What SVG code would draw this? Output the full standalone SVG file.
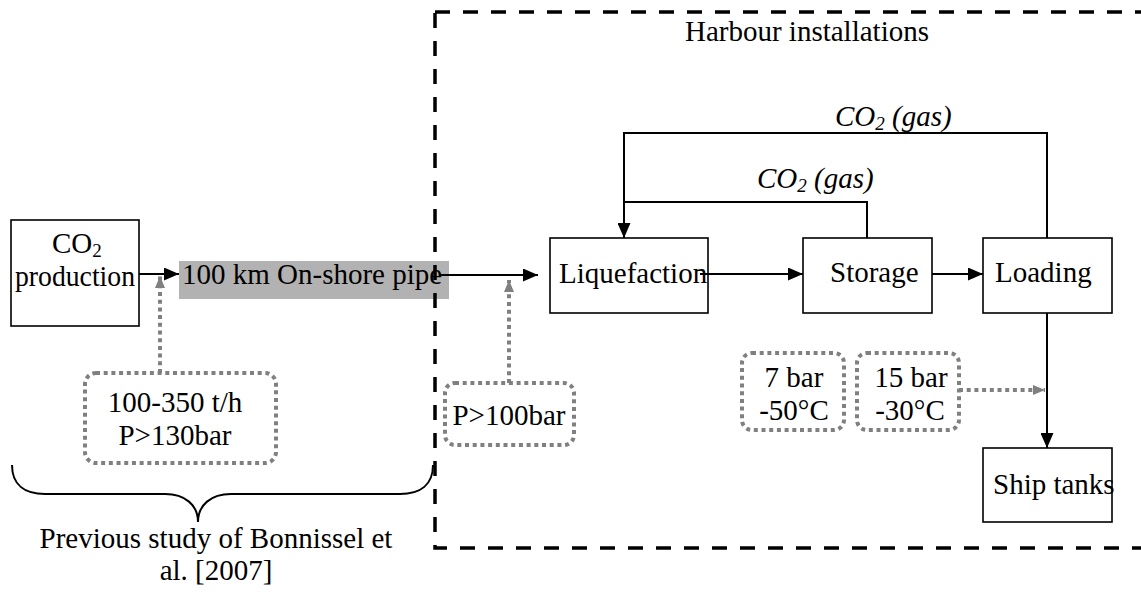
<svg xmlns="http://www.w3.org/2000/svg" width="1141" height="592" viewBox="0 0 1141 592">
<style>
text{font-family:"Liberation Serif","Times New Roman",serif;font-size:29px;fill:#000}
.it{font-style:italic}
.box{fill:#fff;stroke:#000;stroke-width:1.6}
.dot{fill:none;stroke:#808080;stroke-width:4;stroke-dasharray:4 3.7}
.ln{fill:none;stroke:#000;stroke-width:2}
.frame{fill:none;stroke:#000;stroke-width:3.5;stroke-dasharray:15 13}
</style>
<defs>
<marker id="ah" markerUnits="userSpaceOnUse" markerWidth="15" markerHeight="13" refX="15" refY="6.5" orient="auto"><path d="M0,0 L15,6.5 L0,13 z" fill="#000"/></marker>
<marker id="gh" markerUnits="userSpaceOnUse" markerWidth="12" markerHeight="10" refX="12" refY="5" orient="auto"><path d="M0,0 L12,5 L0,10 z" fill="#808080"/></marker>
</defs>
<rect width="1141" height="592" fill="#fff"/>

<g id="pipe">
<rect x="179" y="261" width="270" height="38" fill="#b2b2b2"/>
<text x="182" y="284">100 km On-shore pipe</text>
</g>

<g id="frame">
<rect class="frame" x="435" y="12" width="760" height="536"/>
<text x="807" y="41" text-anchor="middle">Harbour installations</text>
</g>

<g id="co2production">
<rect class="box" x="11" y="220" width="128" height="106"/>
<text x="52" y="253">CO<tspan font-size="19" dy="4">2</tspan></text>
<text x="75" y="286" text-anchor="middle" textLength="120" lengthAdjust="spacingAndGlyphs">production</text>
</g>

<g id="liquefaction">
<rect class="box" x="550" y="238" width="158" height="75"/>
<text x="559" y="283">Liquefaction</text>
</g>

<g id="storage">
<rect class="box" x="803" y="238" width="129" height="75"/>
<text x="830" y="282">Storage</text>
</g>

<g id="loading">
<rect class="box" x="983" y="238" width="129" height="75"/>
<text x="995" y="282">Loading</text>
</g>

<g id="shiptanks">
<rect class="box" x="983" y="448" width="129" height="74"/>
<text x="993" y="494">Ship tanks</text>
</g>

<g id="cond1">
<rect class="dot" x="85" y="373" width="191" height="90" rx="11"/>
<text x="175" y="412" text-anchor="middle">100-350 t/h</text>
<text x="175" y="445" text-anchor="middle">P&gt;130bar</text>
</g>

<g id="cond2">
<rect class="dot" x="445" y="383" width="129" height="62" rx="10"/>
<text x="509" y="425" text-anchor="middle">P&gt;100bar</text>
</g>

<g id="cond3">
<rect class="dot" x="742" y="353" width="102" height="77" rx="10"/>
<text x="794" y="387" text-anchor="middle">7 bar</text>
<text x="794" y="420" text-anchor="middle">-50°C</text>
</g>

<g id="cond4">
<rect class="dot" x="857" y="353" width="102" height="77" rx="10"/>
<text x="911" y="387" text-anchor="middle">15 bar</text>
<text x="910" y="420" text-anchor="middle">-30°C</text>
</g>

<g id="connectors">
<line class="ln" x1="139" y1="274" x2="179" y2="274" marker-end="url(#ah)"/>
<line class="ln" x1="440" y1="275" x2="538" y2="275" marker-end="url(#ah)"/>
<line class="ln" x1="700" y1="274" x2="803" y2="274" marker-end="url(#ah)"/>
<line class="ln" x1="932" y1="274" x2="983" y2="274" marker-end="url(#ah)"/>
<line class="ln" x1="1047" y1="313" x2="1047" y2="448" marker-end="url(#ah)"/>
<polyline class="ln" points="867,238 867,202 624,202 624,238" marker-end="url(#ah)"/>
<polyline class="ln" points="1047,238 1047,133 624,133 624,202"/>
<text class="it" x="757" y="188">CO<tspan font-size="19" dy="4">2</tspan><tspan dy="-4"> (gas)</tspan></text>
<text class="it" x="835" y="126">CO<tspan font-size="19" dy="4">2</tspan><tspan dy="-4"> (gas)</tspan></text>
<line class="dot" x1="160" y1="373" x2="160" y2="276" marker-end="url(#gh)"/>
<line class="dot" x1="509" y1="383" x2="509" y2="280" marker-end="url(#gh)"/>
<line class="dot" x1="959" y1="390" x2="1045" y2="390" marker-end="url(#gh)"/>
</g>

<g id="brace">
<path class="ln" d="M12,465 C12,485 25,494 45,494 L165,494 C185,494 198,505 198,522 C198,505 211,494 231,494 L400,494 C420,494 433,485 433,465"/>
<text x="216" y="548" text-anchor="middle">Previous study of Bonnissel et</text>
<text x="216" y="580" text-anchor="middle">al. [2007]</text>
</g>
</svg>
